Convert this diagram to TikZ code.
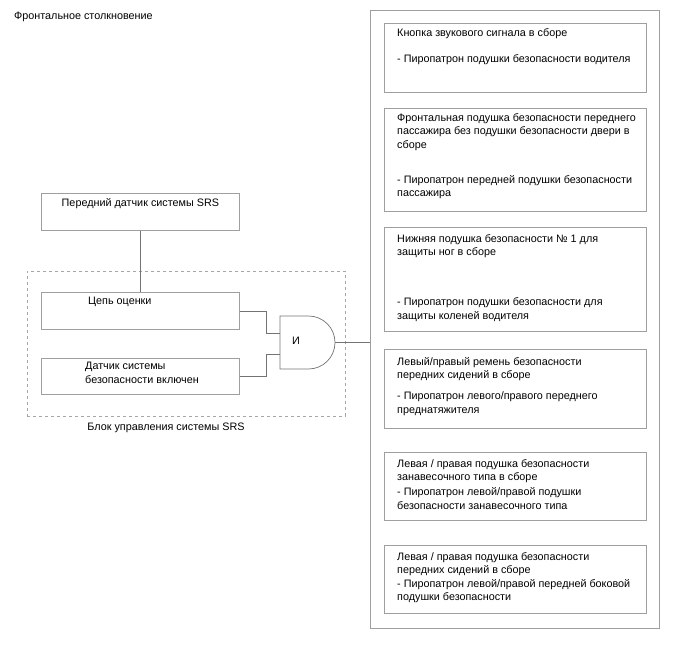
\documentclass[tikz,border=0pt]{standalone}
\usepackage{fontspec}
\setmainfont{Liberation Sans}
\usetikzlibrary{calc}

\begin{document}
\begin{tikzpicture}[x=1pt,y=-1pt,
    font=\fontsize{10.8}{13.5}\selectfont,
    box/.style={draw=gray!75,line width=.8pt,rectangle,inner sep=0pt,anchor=north west},
    txt/.style={inner sep=0pt,anchor=north west,align=left},
    wire/.style={draw=gray!90!black,line width=.7pt}]
  \useasboundingbox (0,0) rectangle (688,658);

  \node[txt] (title) at (14,12) {Фронтальное столкновение};

  % left side
  \node[box,minimum width=198,minimum height=37] (sensor) at (41,193) {};
  \node[txt,anchor=north] (sensorT) at ([yshift=-5]sensor.north) {Передний датчик системы SRS};
  \node[box,draw=gray!70,dashed,minimum width=318,minimum height=145] (ecu) at (27,271) {};
  \node[txt,anchor=north] (ecuT) at (166,423) {Блок управления системы SRS};
  \node[box,minimum width=198,minimum height=37] (evalc) at (41,292) {};
  \node[txt] (evalcT) at (88,297) {Цепь оценки};
  \node[box,minimum width=198,minimum height=36] (detect) at (41,358) {};
  \node[txt] (detectT) at (85,362) {Датчик системы\\безопасности включен};

  % and gate
  \draw[wire] (280,316) -- (308.5,316) arc (-90:90:26.5) -- (280,369) -- cycle;
  \coordinate (in1) at (280,333);
  \coordinate (in2) at (280,354);
  \coordinate (out) at (335,342.5);
  \node[txt] (andT) at (292,337) {И};

  \draw[wire] (sensor.south) -- (evalc.north);
  \draw[wire] (evalc.east) -- ++(27,0) |- (in1);
  \draw[wire] (detect.east) -- ++(27,0) |- (in2);

  % right side
  \node[box,minimum width=289,minimum height=618] (outer) at (370,10) {};
  \draw[wire] (out) -- (out -| outer.west);

  \node[box,minimum width=262,minimum height=69] (horn) at (384,23) {};
  \node[txt] (hornT) at (397,28) {Кнопка звукового сигнала в сборе\\[12.5pt]
    - Пиропатрон подушки безопасности водителя};

  \node[box,minimum width=262,minimum height=103] (pass) at (384,108) {};
  \node[txt] (passT) at (397,113) {Фронтальная подушка безопасности переднего\\
    пассажира без подушки безопасности двери в\\сборе\\[21.5pt]
    - Пиропатрон передней подушки безопасности\\пассажира};

  \node[box,minimum width=262,minimum height=104] (knee) at (384,227) {};
  \node[txt] (kneeT) at (397,234) {Нижняя подушка безопасности № 1 для\\
    защиты ног в сборе\\[36.5pt]
    - Пиропатрон подушки безопасности для\\защиты коленей водителя};

  \node[box,minimum width=262,minimum height=79] (belt) at (384,349) {};
  \node[txt] (beltT) at (397,357) {Левый/правый ремень безопасности\\
    передних сидений в сборе\\[7.5pt]
    - Пиропатрон левого/правого переднего\\преднатяжителя};

  \node[box,minimum width=262,minimum height=68] (curt) at (384,452) {};
  \node[txt] (curtT) at (397,459) {Левая / правая подушка безопасности\\
    занавесочного типа в сборе\\[1.5pt]
    - Пиропатрон левой/правой подушки\\безопасности занавесочного типа};

  \node[box,minimum width=262,minimum height=68] (side) at (384,545) {};
  \node[txt] (sideT) at (397,552) {Левая / правая подушка безопасности\\
    передних сидений в сборе\\
    - Пиропатрон левой/правой передней боковой\\подушки безопасности};
\end{tikzpicture}
\end{document}
